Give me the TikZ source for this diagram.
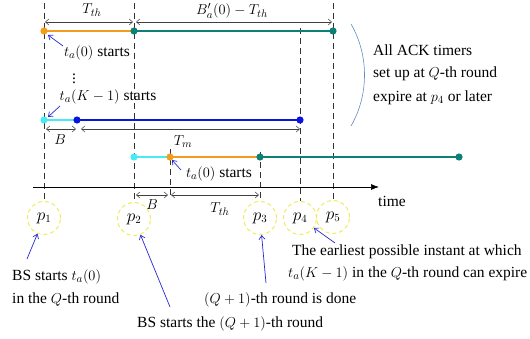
\documentclass[tikz,border=0pt]{standalone}
\usepackage{fontspec}
\setmainfont{Liberation Serif}
\usetikzlibrary{arrows.meta}
\definecolor{cOrange}{RGB}{244,156,28}
\definecolor{cTeal}{RGB}{10,128,118}
\definecolor{cCyan}{RGB}{70,235,245}
\definecolor{cBlue}{RGB}{10,20,225}
\definecolor{cYellow}{RGB}{240,235,90}
\definecolor{annBlue}{RGB}{40,40,210}
\definecolor{braceBlue}{RGB}{100,140,200}
\begin{document}
\begin{tikzpicture}[x=1pt,y=-1pt,
  bar/.style={line width=2.6pt},
  dimarrow/.style={{Straight Barb[length=3.5pt,width=6pt]}-{Straight Barb[length=3.5pt,width=6pt]}, draw=black!75, line width=0.5pt},
  vdash/.style={dash pattern=on 6pt off 4pt, line width=0.6pt, draw=black!80},
  pcirc/.style={circle, draw=cYellow, dash pattern=on 4pt off 3pt, line width=1pt, minimum size=33pt, inner sep=0pt, font=\rmfamily\fontsize{16}{19}\selectfont},
  ann/.style={-{Straight Barb[length=4pt,width=6pt]}, draw=annBlue, line width=0.7pt},
  lbl/.style={inner sep=0pt, font=\rmfamily\fontsize{15.5}{19}\selectfont}]
\useasboundingbox (0,0) rectangle (530,339);

% p circles
\node[pcirc] (p1) at (44,218) {$p_1$};
\node[pcirc] (p2) at (134,219) {$p_2$};
\node[pcirc] (p3) at (260,218) {$p_3$};
\node[pcirc] (p4) at (300,218) {$p_4$};
\node[pcirc] (p5) at (333,217) {$p_5$};

% dashed verticals
\coordinate (v1) at (44,3);
\coordinate (v2) at (134,3);
\coordinate (v3) at (260,152);
\coordinate (v4) at (300,28);
\coordinate (v5) at (333,3);
\coordinate (v6t) at (170,149);
\coordinate (v6b) at (170,198);
\draw[vdash] (v1) -- (p1.north);
\draw[vdash] (v2) -- (p2.north);
\draw[vdash] (v3) -- (p3.north);
\draw[vdash] (v4) -- (p4.north);
\draw[vdash] (v5) -- (p5.north);
\draw[vdash] (v6t) -- (v6b);

% row 1
\coordinate (a1) at (44,31);
\coordinate (a2) at (134,31);
\coordinate (a3) at (333,31);
\draw[bar,cOrange] (a1) -- (a2);
\draw[bar,cTeal] (a2) -- (a3);
\fill[cOrange] (a1) circle (3.6pt);
\fill[cTeal] (a2) circle (3.6pt);
\fill[cTeal] (a3) circle (3.6pt);

% row 2
\coordinate (b1) at (44,120);
\coordinate (b2) at (77,120);
\coordinate (b3) at (300,120);
\draw[bar,cCyan] (b1) -- (b2);
\draw[bar,cBlue] (b2) -- (b3);
\fill[cCyan] (b1) circle (3.6pt);
\fill[cBlue] (b2) circle (3.6pt);
\fill[cBlue] (b3) circle (3.6pt);

% row 3
\coordinate (c1) at (134,157);
\coordinate (c2) at (170,157);
\coordinate (c3) at (260,157);
\coordinate (c4) at (459,157);
\draw[bar,cCyan] (c1) -- (c2);
\draw[bar,cOrange] (c2) -- (c3);
\draw[bar,cTeal] (c3) -- (c4);
\fill[cCyan] (c1) circle (3.6pt);
\fill[cOrange] (c2) circle (3.6pt);
\fill[cTeal] (c3) circle (3.6pt);
\fill[cTeal] (c4) circle (3.6pt);

% time axis
\coordinate (ax0) at (33,187);
\coordinate (ax1) at (379,187);
\draw[line width=0.7pt, -{Latex[length=8pt,width=6pt]}] (ax0) -- (ax1);
\node[lbl] (time) at (392,201) {time};

% dimension arrows
\coordinate (d1) at (45,22);
\coordinate (d2) at (133,22);
\coordinate (d3) at (136,22);
\coordinate (d4) at (332,22);
\draw[dimarrow] (d1) -- (d2);
\draw[dimarrow] (d3) -- (d4);
\node[lbl] (lTth) at (92,10) {$T_{th}$};
\node[lbl] (lBp) at (232,11) {$B_a'(0)-T_{th}$};

\coordinate (e1) at (46,129);
\coordinate (e2) at (76,129);
\coordinate (e3) at (81,129);
\coordinate (e4) at (300,129);
\draw[dimarrow] (e1) -- (e2);
\draw[dimarrow] (e3) -- (e4);
\node[lbl] (lB1) at (60,140) {$B$};
\node[lbl] (lTm) at (183,142) {$T_m$};

\coordinate (f1) at (136,195);
\coordinate (f2) at (168,195);
\coordinate (f3) at (171,195);
\coordinate (f4) at (259,195);
\draw[dimarrow] (f1) -- (f2);
\draw[dimarrow] (f3) -- (f4);
\node[lbl] (lB2) at (152,205) {$B$};
\node[lbl] (lTth2) at (220,209) {$T_{th}$};

% start labels
\node[lbl] (s1) at (97,53) {$t_a(0)$ starts};
\coordinate (s1t) at (63,46);
\coordinate (s1h) at (48,35);
\draw[ann] (s1t) -- (s1h);
\node[lbl] (dots) at (74,76) {$\vdots$};
\node[lbl] (s2) at (108,97) {$t_a(K-1)$ starts};
\coordinate (s2t) at (60,106);
\coordinate (s2h) at (48,117);
\draw[ann] (s2t) -- (s2h);
\node[lbl] (s3) at (219,174) {$t_a(0)$ starts};
\coordinate (s3t) at (181,170);
\coordinate (s3h) at (172,160);
\draw[ann] (s3t) -- (s3h);

% brace
\coordinate (br0) at (351,24);
\coordinate (br1) at (351,126);
\draw[braceBlue, line width=0.6pt] (br0) .. controls (369,55) and (369,95) .. (br1);
\node[lbl, anchor=west] (r1) at (373,50) {All ACK timers};
\node[lbl, anchor=west] (r2) at (373,74) {set up at $Q$-th round};
\node[lbl, anchor=west] (r3) at (373,98) {expire at $p_4$ or later};

% bottom annotations
\node[lbl, anchor=west] (t1) at (12,277) {BS starts $t_a(0)$};
\node[lbl, anchor=west] (t2) at (12,300) {in the $Q$-th round};
\node[lbl, anchor=west] (t3) at (137,324) {BS starts the $(Q+1)$-th round};
\node[lbl, anchor=west] (t4) at (204,300) {$(Q+1)$-th round is done};
\node[lbl, anchor=west] (t5) at (292,252) {The earliest possible instant at which};
\node[lbl, anchor=west] (t6) at (288,274) {$t_a(K-1)$ in the $Q$-th round can expire};

\coordinate (q1) at (27,259);
\coordinate (q2) at (170,307);
\coordinate (q3) at (266,283);
\coordinate (q4) at (335,243);
\draw[ann] (q1) -- (p1);
\draw[ann] (q2) -- (p2);
\draw[ann] (q3) -- (p3);
\draw[ann] (q4) -- (p4);
\end{tikzpicture}
\end{document}
